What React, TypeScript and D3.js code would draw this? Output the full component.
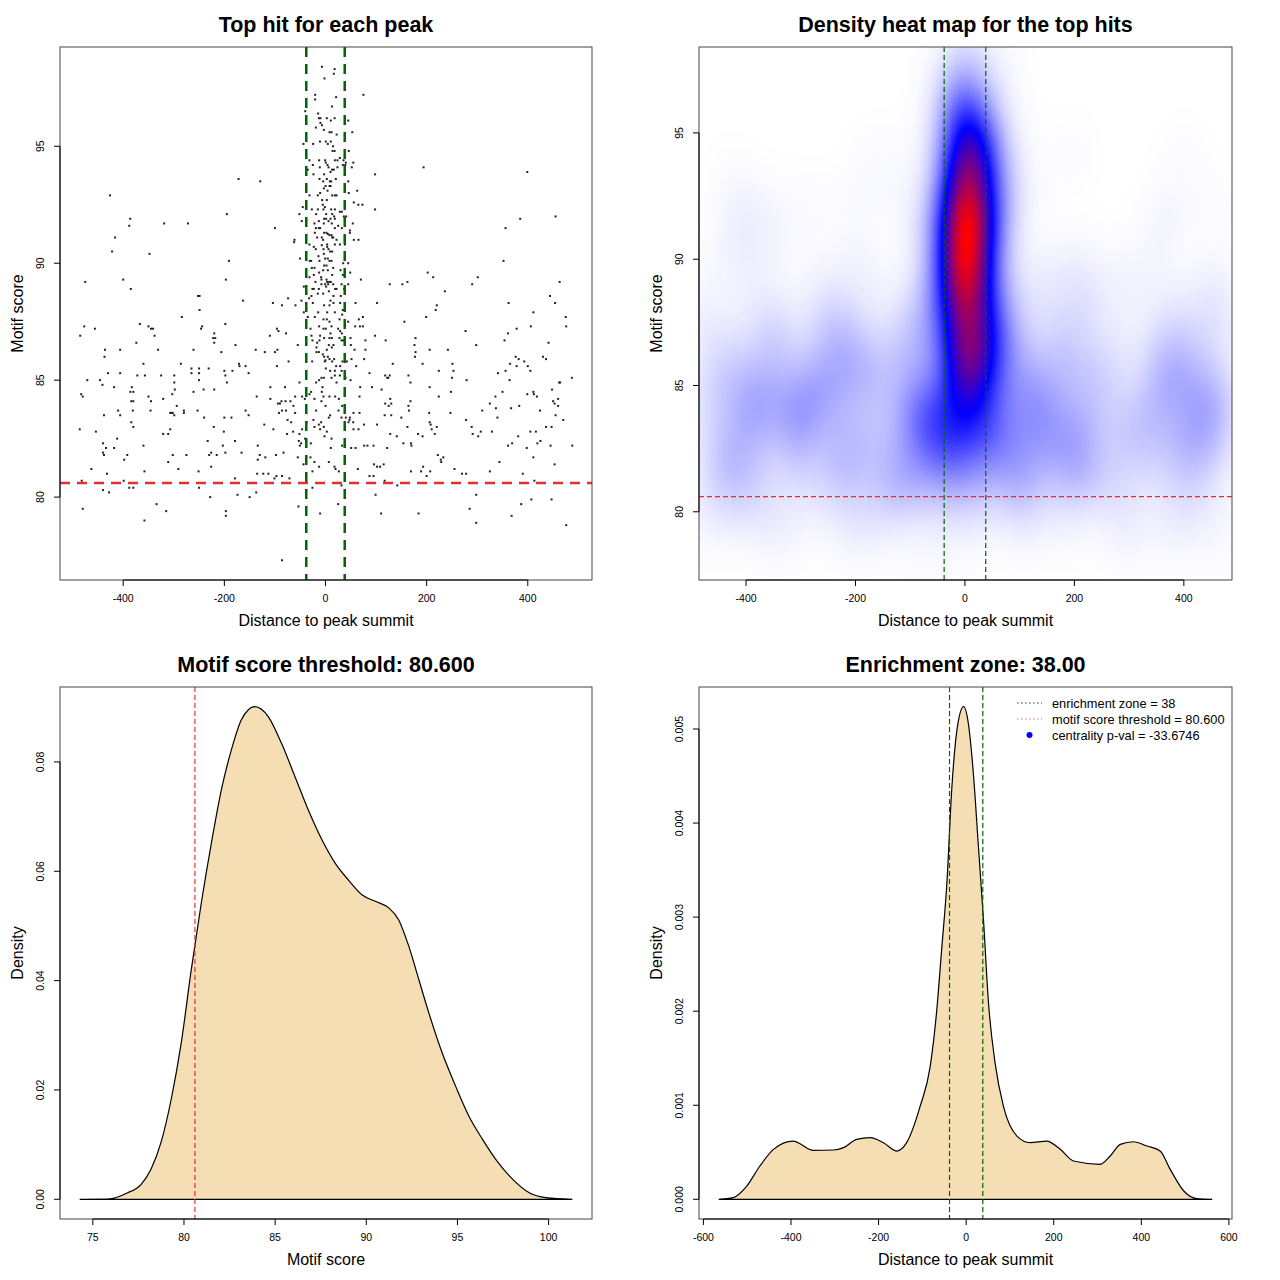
import { useRef, useEffect } from "react";
import * as d3 from "d3";

type Pt = [number, number];

// top hit per peak: [distance to peak summit, motif score]
const hitsLeft: Pt[] = [
  [-172, 93.6], [-129, 93.5], [-426, 92.9], [-386, 91.9], [-388, 91.6], [-319, 91.7], [-272, 91.7], [-195, 92.1],
  [-100, 91.5], [-416, 91.1], [-422, 90.5], [-348, 90.4], [-191, 90.1], [-475, 89.2], [-400, 89.3], [-385, 88.9],
  [-197, 89.3], [-252, 88.6], [-249, 88.6], [-163, 88.4], [-104, 88.3], [-86, 88.2], [-74, 88.5], [-249, 88.0],
  [-284, 87.7], [-477, 87.3], [-485, 86.9], [-456, 87.2], [-367, 87.4], [-345, 87.2], [-350, 87.3], [-338, 86.9],
  [-341, 87.2], [-374, 86.6], [-436, 86.3], [-437, 86.0], [-406, 86.3], [-331, 86.3], [-246, 87.2], [-244, 87.3],
  [-220, 87.0], [-222, 86.8], [-218, 86.8], [-220, 86.6], [-198, 87.4], [-261, 86.3], [-206, 86.2], [-178, 86.5],
  [-138, 86.3], [-120, 86.2], [-96, 87.2], [-93, 87.1], [-78, 87.0], [-110, 86.9], [-95, 86.3], [-100, 86.2],
  [-73, 85.8], [-96, 85.6], [-360, 85.7], [-430, 85.3], [-406, 85.3], [-372, 85.2], [-357, 85.2], [-471, 85.0],
  [-446, 85.0], [-441, 84.8], [-418, 84.7], [-483, 84.4], [-480, 84.3], [-386, 84.5], [-383, 84.7], [-380, 84.5],
  [-384, 84.1], [-380, 84.1], [-350, 84.3], [-345, 84.1], [-381, 83.7], [-346, 83.7], [-325, 85.2], [-299, 85.2],
  [-299, 84.9], [-298, 84.6], [-286, 85.7], [-265, 85.5], [-265, 85.3], [-250, 85.5], [-250, 85.3], [-231, 85.5],
  [-250, 85.0], [-241, 84.6], [-220, 84.6], [-261, 84.5], [-200, 85.4], [-198, 85.2], [-184, 85.4], [-171, 85.7],
  [-170, 85.6], [-158, 85.6], [-152, 85.3], [-195, 84.9], [-303, 84.4], [-321, 84.2], [-294, 83.9], [-307, 83.6],
  [-304, 83.6], [-302, 83.6], [-299, 83.5], [-280, 83.7], [-280, 83.6], [-253, 83.7], [-240, 83.4], [-200, 83.4],
  [-186, 83.4], [-158, 83.7], [-152, 83.5], [-136, 84.3], [-109, 84.7], [-109, 84.2], [-80, 84.7], [-90, 84.0],
  [-94, 84.0], [-87, 84.1], [-79, 84.1], [-86, 83.7], [-92, 83.6], [-78, 83.7], [-75, 83.3], [-486, 82.9],
  [-454, 82.8], [-438, 83.5], [-406, 83.5], [-410, 83.7], [-384, 83.2], [-380, 83.0], [-412, 82.5], [-440, 82.3],
  [-434, 82.1], [-440, 81.9], [-438, 81.8], [-418, 82.1], [-392, 81.8], [-398, 81.6], [-360, 82.2], [-321, 82.7],
  [-311, 82.7], [-307, 82.9], [-302, 81.8], [-275, 81.8], [-311, 81.5], [-291, 81.2], [-358, 81.1], [-432, 81.0],
  [-463, 81.2], [-482, 80.7], [-399, 80.7], [-440, 80.3], [-428, 80.2], [-388, 80.4], [-380, 80.4], [-250, 80.4],
  [-233, 82.4], [-221, 83.0], [-201, 82.8], [-203, 82.2], [-179, 82.4], [-230, 81.8], [-226, 81.9], [-215, 81.8],
  [-198, 81.9], [-166, 81.9], [-226, 81.3], [-251, 81.1], [-134, 82.2], [-130, 81.8], [-119, 81.7], [-134, 81.6],
  [-98, 81.8], [-83, 81.9], [-135, 81.0], [-123, 81.0], [-113, 81.0], [-179, 80.8], [-97, 80.9], [-86, 80.9],
  [-101, 80.8], [-121, 83.1], [-103, 82.9], [-76, 82.7], [-174, 80.1], [-150, 80.0], [-137, 80.2], [-228, 80.0],
  [-334, 79.7], [-315, 79.4], [-480, 79.5], [-197, 79.4], [-197, 79.2], [-358, 79.0], [-86, 77.3],
];

const hitsCenter: Pt[] = [
  [-7, 98.4], [18, 98.3], [16.5, 98.1], [-2, 97.9], [75, 97.2], [-20.5, 97.2], [-20.5, 97.0], [21, 97.1], [-40, 96.5],
  [13, 96.7], [-14.5, 96.4], [-13, 96.2], [-10, 96.2], [2.6, 96.2], [18, 96.2], [45, 96.1], [10.5, 96.1], [-10, 96.0],
  [-7, 95.9], [-19, 95.8], [-3.3, 95.7], [8, 95.6], [12, 95.6], [53, 95.6], [22, 95.5], [-43.6, 95.1], [-24.5, 95.1],
  [-11, 95.2], [0.6, 95.2], [10.5, 95.2], [4.6, 95.1], [15, 95.0], [14, 94.8], [18, 94.8], [46, 94.8], [28.4, 94.5],
  [-31.7, 94.4], [-12.6, 94.4], [-0.7, 94.4], [18.5, 94.4], [23.7, 94.4], [35.6, 94.4], [55, 94.3], [40.2, 94.3],
  [-25, 94.2], [0.6, 94.3], [4, 94.2], [34.3, 94.2], [39, 94.2], [52, 94.1], [-11.2, 94.1], [6, 94.1], [23.7, 94.1],
  [-35, 94.0], [13, 94.0], [16.5, 94.0], [9.9, 93.9], [-23.8, 93.8], [-2.7, 93.8], [-11.9, 93.6], [2.6, 93.6],
  [8.6, 93.5], [20.4, 93.6], [-4.6, 93.5], [11.2, 93.5], [45, 93.5], [8, 93.3], [0, 93.3], [-3.3, 93.2], [10, 93.3],
  [4, 93.1], [-10.6, 93.0], [62.7, 93.1], [-31.7, 92.9], [-15.2, 92.9], [13.2, 92.9], [18.5, 92.9], [21.8, 92.9],
  [46, 93.0], [-6.6, 92.7], [2.6, 92.7], [56, 92.6], [65, 92.5], [73, 92.5], [-45, 92.4], [-27, 92.3], [-15.2, 92.3],
  [-5.3, 92.5], [-1.3, 92.4], [-4, 92.3], [11.2, 92.3], [18.5, 92.3], [28.4, 92.2], [32.3, 92.2], [-51.5, 92.1],
  [-18.5, 92.1], [1.3, 92.1], [13.2, 92.1], [36.3, 92.0], [40.9, 92.0], [-2.7, 91.9], [1.3, 91.9], [9.9, 91.9],
  [17.1, 92.0], [18.5, 91.9], [-13.2, 91.8], [6, 91.8], [-46.9, 91.8], [-38.3, 91.8], [54, 91.7], [-21.8, 91.7],
  [-3.3, 91.7], [12.5, 91.7], [25, 91.6], [-13.2, 91.5], [-19, 91.5], [32.3, 91.5], [18.5, 91.5],
  [-10.6, 91.5], [48.2, 91.4], [48.2, 91.3], [-61.4, 91.0], [-62, 90.9], [-21.1, 91.3], [-2.7, 91.3], [2, 91.3],
  [4.6, 91.25], [7.9, 91.2], [11.9, 91.2], [13.2, 91.1], [-16.5, 91.1], [-7.3, 91.1], [-4.6, 91.0], [15.2, 91.1],
  [21.8, 91.0], [38.3, 91.0], [56, 91.0], [65.3, 91.0], [-31.7, 90.8], [3.3, 90.8], [-7.3, 90.77], [18.5, 90.8],
  [28.4, 90.8], [38.3, 90.8], [-23.1, 90.7], [-19.2, 90.6], [-4, 90.6], [3.3, 90.7], [5.9, 90.6], [9.2, 90.5],
  [13.2, 90.5], [-3.3, 90.4], [-13.9, 90.3], [-0.7, 90.2], [4.6, 90.2], [-50.2, 90.2], [-31, 90.1], [-28.4, 90.1],
  [-11.9, 90.1], [7.9, 90.1], [11.9, 90.1], [35, 90.0], [44.9, 90.0], [-2.7, 89.9], [2, 89.9], [-27.1, 89.8],
  [-21.8, 89.8], [15.2, 89.8], [-4.6, 89.7], [4.6, 89.7], [29.7, 89.7], [-12.6, 89.6], [48.8, 89.6], [-23.1, 89.5],
  [13.2, 89.5], [34.3, 89.5], [-31.7, 89.4], [-8.6, 89.4], [-8, 89.3], [2, 89.3], [70, 89.3], [-19.8, 89.2],
  [3.3, 89.2], [7.2, 89.2], [10.5, 89.2], [-8, 89.1], [-0.7, 89.1], [5.3, 89.1], [15.2, 89.1], [31.7, 89.1],
  [44.9, 89.1], [-42.9, 89.0], [1.3, 89.0], [-25.8, 88.9], [-23.1, 88.9], [-13.2, 88.9], [19.1, 88.9], [21.8, 88.9],
  [37, 88.9], [6.6, 88.8], [-15.2, 88.7], [-4.6, 88.7], [30.3, 88.6], [15.8, 88.6], [-27.7, 88.6], [-32.4, 88.5],
  [-47.5, 88.4], [9.9, 88.4], [59.4, 88.3], [-25.1, 88.3], [-2.7, 88.2], [7.9, 88.2], [15.8, 88.3], [29, 88.3],
  [-59.4, 88.2], [34.3, 88.0], [3.3, 87.9], [18.5, 87.9], [-42.9, 87.9], [-14.5, 87.9], [33, 87.8], [73.9, 87.7],
  [-35, 87.7], [-21.1, 87.7], [-4, 87.6], [2.6, 87.6], [27.7, 87.6], [66, 87.6], [7.9, 87.5], [44.9, 87.5],
  [58.7, 87.3], [68, 87.3], [73.9, 87.3], [-12.6, 87.3], [-29.7, 87.2], [-4, 87.2], [0.6, 87.2], [11.9, 87.3],
  [25, 87.2], [29, 87.1], [32.3, 87.0], [9.9, 87.0], [-27.7, 86.9], [-10.6, 86.9], [-2.7, 86.8], [7.9, 86.8],
  [12.5, 86.8], [27.7, 86.8], [49.5, 86.8], [-25.8, 86.7], [-11.9, 86.7], [31.7, 86.7], [35, 86.7], [-16.5, 86.6],
  [6.6, 86.5], [15.8, 86.5], [-17.8, 86.4], [12.5, 86.4], [-54.8, 86.5], [50.1, 86.5], [57.4, 86.3], [-17.8, 86.2],
  [-13.2, 86.2], [2.6, 86.3], [-5.3, 86.1], [-2.7, 86.0], [4.6, 86.0], [7.9, 85.9], [-1.3, 85.8], [-26.4, 85.8],
  [0, 85.85], [13.2, 85.8], [17.1, 85.9], [33.6, 85.8], [42.2, 85.8], [51.5, 85.9], [76.5, 85.9], [21.1, 85.6],
  [29, 85.6], [60.7, 85.6], [0.6, 85.5], [9.2, 85.4], [18.5, 85.4], [31.7, 85.4], [18.5, 85.2], [28.4, 85.2],
  [-8, 85.1], [-3.3, 85.1], [11.9, 85.1], [39.6, 85.1], [21.8, 84.9], [-51.5, 84.9], [-12.6, 85.0], [-18.5, 84.9],
  [49.5, 85.0], [-5.9, 84.7], [68.6, 84.7], [-28.4, 84.5], [-7.3, 84.5], [-31.7, 84.4], [7.9, 84.3], [19.1, 84.3],
  [-46.2, 84.3], [-40.9, 84.2], [26.4, 84.2], [-21.8, 84.2],
  [-60, 84.3], [-4, 84.3], [67.3, 84.3], [-69.3, 84.1], [-8, 84.1], [0, 83.9], [33, 83.9], [-63.4, 83.9],
  [-18.5, 83.7], [25.7, 83.7], [-60, 83.6], [55.4, 83.6], [67.3, 83.6], [9.2, 83.5], [6.6, 83.4], [31.7, 83.4],
  [40.2, 83.4], [48.2, 83.4], [47.5, 83.3], [-23.8, 83.3], [-68, 83.2], [-37.6, 83.2], [-13.2, 83.1], [-8.6, 83.2],
  [45.5, 83.2], [54.8, 83.2], [76, 83.1], [-21.8, 83.0], [-3.3, 83.0], [-10.6, 82.9], [55.4, 82.9], [65.3, 82.9],
  [-46.2, 82.9], [-64, 82.8], [2.6, 82.8], [-51.5, 82.7], [-2, 82.6], [-40.3, 82.5], [11.9, 82.5], [-52.8, 82.4],
  [-48.2, 82.3], [-29, 82.3], [-50.8, 82.2], [10.5, 82.1], [33, 82.2], [50.8, 82.1], [59.4, 82.1], [76.5, 82.2],
  [-54.8, 81.7], [-29.7, 81.7], [-21.8, 81.5], [-43.6, 81.4], [6.6, 81.5], [-12.6, 81.3], [17.8, 81.3], [19.8, 81.2],
  [26.4, 81.1], [-25.8, 81.1], [64, 81.2], [-71.3, 80.8], [31.7, 80.5], [-25.8, 80.4], [-53.5, 79.6], [25, 79.7],
  [-10.6, 79.3],
];

const hitsRight: Pt[] = [
  [102, 88.3], [194, 94.1], [98, 93.8], [399, 93.9], [98, 92.3], [385, 91.9], [455, 92.0], [356, 91.5], [352, 90.1],
  [202, 89.6], [213, 89.4], [301, 89.4], [127, 89.1], [152, 89.1], [162, 89.2], [236, 88.8], [290, 89.1], [463, 89.2],
  [444, 88.6], [220, 88.2], [218, 88.0], [362, 88.3], [454, 88.3], [199, 87.7], [411, 87.9], [475, 87.7], [476, 87.3],
  [156, 87.5], [406, 87.3], [378, 87.2], [277, 87.1], [361, 87.0], [98, 86.9], [119, 86.7], [178, 86.8], [176, 86.5],
  [79, 86.7], [298, 86.5], [354, 86.7], [441, 86.6], [79, 86.3], [206, 86.3], [242, 86.3], [178, 86.2], [177, 86.0],
  [376, 86.0], [382, 85.9], [393, 85.8], [430, 86.0], [436, 85.9], [133, 85.7], [192, 85.7], [251, 85.7], [253, 85.4],
  [365, 85.7], [356, 85.4], [378, 85.6], [400, 85.6], [405, 85.4], [87, 85.3], [224, 85.4], [341, 85.3], [118, 85.2],
  [122, 85.1], [124, 85.1], [127, 85.2], [164, 85.2], [168, 84.9], [250, 85.1], [279, 85.0], [364, 85.0], [462, 84.9],
  [464, 84.9], [487, 85.1], [92, 84.7], [111, 84.6], [206, 84.7], [248, 84.5], [350, 84.5], [411, 84.5], [412, 84.4],
  [448, 84.6], [399, 84.4], [418, 84.3], [336, 84.3], [224, 84.3], [128, 84.2], [118, 84.0], [125, 83.9], [130, 84.0],
  [164, 83.9], [168, 84.1], [165, 83.7], [325, 84.0], [337, 83.8], [383, 83.9], [367, 83.8], [450, 84.1], [453, 84.0],
  [460, 84.2], [460, 83.9], [310, 83.7], [424, 83.7], [117, 83.5], [130, 83.5], [150, 83.4], [205, 83.6], [247, 83.6],
  [340, 83.4], [455, 83.5], [470, 83.3], [102, 83.1], [162, 83.0], [206, 83.2], [208, 83.1], [210, 82.9], [220, 83.0],
  [216, 82.7], [278, 83.3], [289, 83.0], [291, 82.7], [302, 82.6], [307, 82.8], [329, 82.8], [128, 82.7], [141, 82.6],
  [183, 82.7], [192, 82.6], [436, 83.0], [447, 83.0], [405, 82.8], [416, 82.8], [381, 82.6], [83, 82.2], [95, 82.2],
  [122, 82.1], [154, 82.3], [169, 82.3], [170, 82.2], [222, 81.8], [228, 81.6], [229, 81.5], [233, 81.7], [361, 82.2],
  [369, 82.3], [398, 82.1], [411, 81.7], [419, 82.3], [425, 82.4], [445, 82.2], [488, 82.2], [344, 81.5], [453, 81.4],
  [96, 81.4], [102, 81.3], [108, 81.3], [115, 81.4], [169, 81.1], [189, 81.1], [193, 81.3], [200, 80.9], [207, 81.1],
  [255, 81.2], [270, 81.0], [278, 81.0], [325, 81.1], [390, 81.0], [87, 80.9], [95, 80.9], [117, 80.7], [142, 80.5],
  [413, 80.7], [99, 80.1], [298, 80.1], [407, 79.9], [447, 79.9], [387, 79.7], [110, 79.3], [184, 79.3], [285, 79.5],
  [368, 79.2], [298, 78.9], [476, 78.8],
];

// density of motif scores
const scoreDensX = [74.28, 75.81, 76.91, 77.64, 78.19, 78.74, 79.3, 79.85, 80.4, 80.95, 81.5, 82.05, 82.6, 83.15,
  83.88, 84.62, 85.35, 86.09, 86.82, 87.56, 88.29, 89.02, 89.76, 90.49, 91.23, 91.78, 92.33, 92.88, 93.43, 94.16,
  94.9, 95.63, 96.37, 97.1, 98.02, 98.94, 99.85, 101.3];
const scoreDensY = [0, 0.00004, 0.0012, 0.0027, 0.0055, 0.0104, 0.0183, 0.0286, 0.042, 0.0542, 0.0651, 0.0749,
  0.0822, 0.0877, 0.0901, 0.0883, 0.0834, 0.0773, 0.0712, 0.0658, 0.0615, 0.0584, 0.0557, 0.0545, 0.0533, 0.0511,
  0.0463, 0.0402, 0.0341, 0.0268, 0.0207, 0.0152, 0.011, 0.0073, 0.0037, 0.0012, 0.0003, 0];

// density of distances to peak summit
const distDensX = [-565, -532, -501, -471, -440, -395, -349, -303, -280, -250, -219, -189, -158, -136, -105, -82,
  -67, -56, -44, -33, -21, -6, 5, 17, 28, 40, 51, 66, 85, 116, 146, 184, 215, 245, 306, 329, 352, 382, 413, 443,
  466, 497, 527, 562];
const distDensY = [0, 0.000018, 0.000141, 0.000354, 0.000531, 0.000619, 0.00052, 0.000524, 0.000549, 0.000637,
  0.000655, 0.000602, 0.000513, 0.000602, 0.00099, 0.001415, 0.002017, 0.002654, 0.003362, 0.004352, 0.00499,
  0.005237, 0.00506, 0.004494, 0.00375, 0.002937, 0.002088, 0.001451, 0.00099, 0.000672, 0.000602, 0.000619,
  0.000531, 0.000407, 0.000372, 0.00046, 0.000584, 0.000612, 0.000566, 0.000513, 0.000318, 0.000088, 0.000007, 0];

const enrichmentZone = 38;
const scoreThreshold = 80.6;
const centralityPval = "-33.6746";

// kernel sd used for the heat map (distance, score) and colour gamma
const heatBandwidth: [number, number] = [33, 1.2];
const heatGamma = 1.2;

const distTicks = [-400, -200, 0, 200, 400];
const scoreTicks = [80, 85, 90, 95];
const scoreAxisTicks = [75, 80, 85, 90, 95, 100];
const scoreDensTicks = [0, 0.02, 0.04, 0.06, 0.08];
const distAxisTicks = [-600, -400, -200, 0, 200, 400, 600];
const distDensTicks = [0, 0.001, 0.002, 0.003, 0.004, 0.005];

const FONT = "'Liberation Sans', Arial, Helvetica, sans-serif";
const RED = "#e03030";
const GREEN = "#006400";

interface Box { l: number; r: number; t: number; b: number }

const expand = (lo: number, hi: number): [number, number] => {
  const d = (hi - lo) * 0.04;
  return [lo - d, hi + d];
};

function drawFrame(
  g: d3.Selection<SVGGElement, unknown, null, undefined>,
  box: Box,
  x: d3.ScaleLinear<number, number>,
  y: d3.ScaleLinear<number, number>,
  xTicks: number[],
  yTicks: number[],
  fmtY: (v: number) => string,
  title: string,
  xlab: string,
  ylab: string
) {
  g.append("rect")
    .attr("x", box.l)
    .attr("y", box.t)
    .attr("width", box.r - box.l)
    .attr("height", box.b - box.t)
    .attr("fill", "none")
    .attr("stroke", "#444");

  // x axis spans first to last tick, like base R
  g.append("line")
    .attr("x1", x(xTicks[0])).attr("x2", x(xTicks[xTicks.length - 1]))
    .attr("y1", box.b).attr("y2", box.b)
    .attr("stroke", "#000");
  xTicks.forEach((t) => {
    g.append("line")
      .attr("x1", x(t)).attr("x2", x(t))
      .attr("y1", box.b).attr("y2", box.b + 6)
      .attr("stroke", "#000");
    g.append("text")
      .attr("x", x(t)).attr("y", box.b + 22)
      .attr("text-anchor", "middle")
      .attr("font-size", "10.5px")
      .text(String(t));
  });

  g.append("line")
    .attr("x1", box.l).attr("x2", box.l)
    .attr("y1", y(yTicks[0])).attr("y2", y(yTicks[yTicks.length - 1]))
    .attr("stroke", "#000");
  yTicks.forEach((t) => {
    g.append("line")
      .attr("x1", box.l - 6).attr("x2", box.l)
      .attr("y1", y(t)).attr("y2", y(t))
      .attr("stroke", "#000");
    g.append("text")
      .attr("transform", `translate(${box.l - 16},${y(t)}) rotate(-90)`)
      .attr("text-anchor", "middle")
      .attr("font-size", "10.5px")
      .text(fmtY(t));
  });

  g.append("text")
    .attr("x", (box.l + box.r) / 2).attr("y", box.t - 15)
    .attr("text-anchor", "middle")
    .attr("font-size", "21.5px")
    .attr("font-weight", "bold")
    .text(title);
  g.append("text")
    .attr("x", (box.l + box.r) / 2).attr("y", box.b + 46)
    .attr("text-anchor", "middle")
    .attr("font-size", "16px")
    .text(xlab);
  g.append("text")
    .attr("transform", `translate(${box.l - 37},${(box.t + box.b) / 2}) rotate(-90)`)
    .attr("text-anchor", "middle")
    .attr("font-size", "16px")
    .text(ylab);
}

export default function App() {
  const svgRef = useRef<SVGSVGElement | null>(null);

  useEffect(() => {
    if (!svgRef.current) return;
    const svg = d3.select(svgRef.current);
    svg.selectAll("*").remove();
    const root = svg.append("g").attr("font-family", FONT);

    const hits = [...hitsLeft, ...hitsCenter, ...hitsRight];
    const xs = hits.map((d) => d[0]);
    const ys = hits.map((d) => d[1]);
    const xExt = d3.extent(xs) as [number, number];
    const yExt = d3.extent(ys) as [number, number];

    // ---- top left: scatter of top hits
    const b1: Box = { l: 60, r: 592, t: 47, b: 580 };
    const x1 = d3.scaleLinear().domain(expand(xExt[0], xExt[1])).range([b1.l, b1.r]);
    const y1 = d3.scaleLinear().domain(expand(yExt[0], yExt[1])).range([b1.b, b1.t]);
    const p1 = root.append("g");
    p1.selectAll("rect.pt")
      .data(hits)
      .enter()
      .append("rect")
      .attr("class", "pt")
      .attr("x", (d) => x1(d[0]) - 1)
      .attr("y", (d) => y1(d[1]) - 1)
      .attr("width", 2)
      .attr("height", 2)
      .attr("fill", "#222");
    [-enrichmentZone, enrichmentZone].forEach((z) => {
      p1.append("line")
        .attr("x1", x1(z)).attr("x2", x1(z))
        .attr("y1", b1.t).attr("y2", b1.b)
        .attr("stroke", GREEN).attr("stroke-width", 2.5)
        .attr("stroke-dasharray", "10 7");
    });
    p1.append("line")
      .attr("x1", b1.l).attr("x2", b1.r)
      .attr("y1", y1(scoreThreshold)).attr("y2", y1(scoreThreshold))
      .attr("stroke", RED).attr("stroke-width", 2.5)
      .attr("stroke-dasharray", "10 7");
    drawFrame(p1, b1, x1, y1, distTicks, scoreTicks, String,
      "Top hit for each peak", "Distance to peak summit", "Motif score");

    // ---- top right: 2d density heat map
    const b2: Box = { l: 699, r: 1232, t: 47, b: 580 };
    const x2 = d3.scaleLinear().domain(xExt).range([b2.l, b2.r]);
    const y2 = d3.scaleLinear().domain(yExt).range([b2.b, b2.t]);
    const [hx, hy] = heatBandwidth;
    const nx = 240;
    const ny = 240;
    const gx = d3.range(nx).map((i) => xExt[0] + ((i + 0.5) / nx) * (xExt[1] - xExt[0]));
    const gy = d3.range(ny).map((j) => yExt[1] - ((j + 0.5) / ny) * (yExt[1] - yExt[0]));
    const z = new Float64Array(nx * ny);
    const kx = new Float64Array(nx);
    const ky = new Float64Array(ny);
    hits.forEach(([px, py]) => {
      for (let i = 0; i < nx; i++) { const u = (gx[i] - px) / hx; kx[i] = Math.exp(-0.5 * u * u); }
      for (let j = 0; j < ny; j++) { const v = (gy[j] - py) / hy; ky[j] = Math.exp(-0.5 * v * v); }
      for (let j = 0; j < ny; j++) {
        const kj = ky[j];
        if (kj < 1e-6) continue;
        const off = j * nx;
        for (let i = 0; i < nx; i++) z[off + i] += kj * kx[i];
      }
    });
    const zMax = d3.max(z) as number;
    const ramp = d3.scaleLinear<string>()
      .domain([0, 0.5, 1])
      .range(["#ffffff", "#0000ff", "#ff0000"])
      .interpolate(d3.interpolateRgb);
    const canvas = document.createElement("canvas");
    canvas.width = nx;
    canvas.height = ny;
    const ctx = canvas.getContext("2d") as CanvasRenderingContext2D;
    const img = ctx.createImageData(nx, ny);
    for (let k = 0; k < nx * ny; k++) {
      const c = d3.rgb(ramp(Math.pow(z[k] / zMax, heatGamma)));
      img.data[k * 4] = c.r;
      img.data[k * 4 + 1] = c.g;
      img.data[k * 4 + 2] = c.b;
      img.data[k * 4 + 3] = 255;
    }
    ctx.putImageData(img, 0, 0);
    const p2 = root.append("g");
    p2.append("image")
      .attr("x", b2.l).attr("y", b2.t)
      .attr("width", b2.r - b2.l).attr("height", b2.b - b2.t)
      .attr("preserveAspectRatio", "none")
      .attr("href", canvas.toDataURL());
    [-enrichmentZone, enrichmentZone].forEach((zz) => {
      p2.append("line")
        .attr("x1", x2(zz)).attr("x2", x2(zz))
        .attr("y1", b2.t).attr("y2", b2.b)
        .attr("stroke", GREEN).attr("stroke-width", 1.2)
        .attr("stroke-dasharray", "5 3");
    });
    p2.append("line")
      .attr("x1", b2.l).attr("x2", b2.r)
      .attr("y1", y2(scoreThreshold)).attr("y2", y2(scoreThreshold))
      .attr("stroke", RED).attr("stroke-width", 1.2)
      .attr("stroke-dasharray", "5 3");
    drawFrame(p2, b2, x2, y2, distTicks, scoreTicks, String,
      "Density heat map for the top hits", "Distance to peak summit", "Motif score");

    // ---- bottom left: motif score density
    const b3: Box = { l: 60, r: 592, t: 687, b: 1219 };
    const sd = scoreDensX.map((v, i) => [v, scoreDensY[i]] as Pt);
    const x3 = d3.scaleLinear()
      .domain(expand(scoreDensX[0], scoreDensX[scoreDensX.length - 1]))
      .range([b3.l, b3.r]);
    const y3 = d3.scaleLinear().domain(expand(0, d3.max(scoreDensY) as number)).range([b3.b, b3.t]);
    const line3 = d3.line<Pt>().x((d) => x3(d[0])).y((d) => y3(d[1])).curve(d3.curveMonotoneX);
    const p3 = root.append("g");
    p3.append("path")
      .attr("d", (line3(sd) as string) + "Z")
      .attr("fill", "#F5DEB3")
      .attr("stroke", "#000")
      .attr("stroke-width", 1.2);
    p3.append("line")
      .attr("x1", x3(scoreThreshold)).attr("x2", x3(scoreThreshold))
      .attr("y1", b3.t).attr("y2", b3.b)
      .attr("stroke", RED).attr("stroke-width", 1.2)
      .attr("stroke-dasharray", "5 3");
    drawFrame(p3, b3, x3, y3, scoreAxisTicks, scoreDensTicks, d3.format(".2f"),
      `Motif score threshold: ${scoreThreshold.toFixed(3)}`, "Motif score", "Density");

    // ---- bottom right: distance density
    const b4: Box = { l: 699, r: 1232, t: 687, b: 1219 };
    const dd = distDensX.map((v, i) => [v, distDensY[i]] as Pt);
    const x4 = d3.scaleLinear()
      .domain(expand(distDensX[0], distDensX[distDensX.length - 1]))
      .range([b4.l, b4.r]);
    const y4 = d3.scaleLinear().domain(expand(0, d3.max(distDensY) as number)).range([b4.b, b4.t]);
    const line4 = d3.line<Pt>().x((d) => x4(d[0])).y((d) => y4(d[1])).curve(d3.curveMonotoneX);
    const p4 = root.append("g");
    p4.append("path")
      .attr("d", (line4(dd) as string) + "Z")
      .attr("fill", "#F5DEB3")
      .attr("stroke", "#000")
      .attr("stroke-width", 1.2);
    [-enrichmentZone, enrichmentZone].forEach((zz) => {
      p4.append("line")
        .attr("x1", x4(zz)).attr("x2", x4(zz))
        .attr("y1", b4.t).attr("y2", b4.b)
        .attr("stroke", GREEN).attr("stroke-width", 1.2)
        .attr("stroke-dasharray", "5 3");
    });
    drawFrame(p4, b4, x4, y4, distAxisTicks, distDensTicks, d3.format(".3f"),
      `Enrichment zone: ${enrichmentZone.toFixed(2)}`, "Distance to peak summit", "Density");

    // legend
    const legend = [
      { label: `enrichment zone = ${enrichmentZone}`, kind: "line", color: GREEN },
      { label: `motif score threshold = ${scoreThreshold.toFixed(3)}`, kind: "line", color: "#f06060" },
      { label: `centrality p-val = ${centralityPval}`, kind: "dot", color: "#0000ff" },
    ];
    const lg = p4.append("g").attr("transform", `translate(1017,703)`);
    legend.forEach((item, i) => {
      const yy = i * 16;
      if (item.kind === "line") {
        lg.append("line")
          .attr("x1", 0).attr("x2", 25)
          .attr("y1", yy).attr("y2", yy)
          .attr("stroke", item.color).attr("stroke-width", 1.2)
          .attr("stroke-dasharray", "1.5 2.5");
      } else {
        lg.append("circle").attr("cx", 12.5).attr("cy", yy).attr("r", 3).attr("fill", item.color);
      }
      lg.append("text")
        .attr("x", 35).attr("y", yy + 4.5)
        .attr("font-size", "12.8px")
        .text(item.label);
    });
  }, []);

  return (
    <svg
      ref={svgRef}
      width={1280}
      height={1280}
      style={{ position: "absolute", left: 0, top: 0, background: "#fff" }}
    />
  );
}
